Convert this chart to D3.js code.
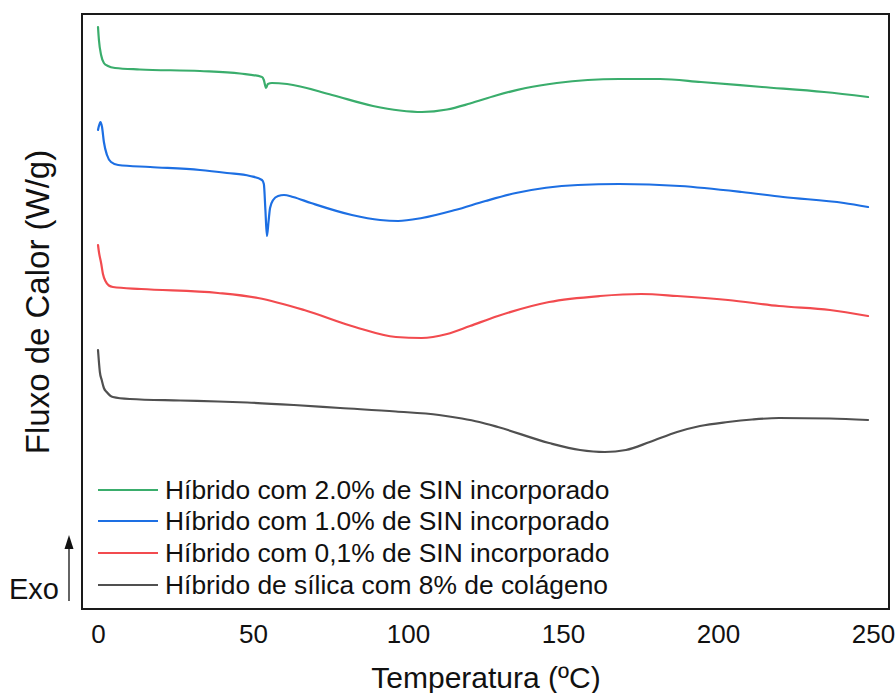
<!DOCTYPE html>
<html>
<head>
<meta charset="utf-8">
<script src="https://cdn.jsdelivr.net/npm/d3@7"></script>
<style>
  html, body { margin: 0; padding: 0; background: #fff; }
  svg { display: block; }
  text { font-family: "Liberation Sans", Arial, sans-serif; fill: #111; }
</style>
</head>
<body>
<svg id="chart" width="896" height="693"></svg>
<script>
// ---- Data (temperature °C, heat flow in arbitrary W/g offset units) ----
const seriesNames = [
  "Híbrido com 2.0% de SIN incorporado",
  "Híbrido com 1.0% de SIN incorporado",
  "Híbrido com 0,1% de SIN incorporado",
  "Híbrido de sílica com 8% de colágeno"
];
const seriesColors = ["#3aad6c", "#1d6fe3", "#f24b4f", "#505050"];

const green2 = [
  [0,5.82],[0.3,5.69],[1.0,5.54],[1.9,5.46],[3.2,5.43],[5.5,5.41],[13.5,5.395],
  [32.9,5.38],[45.8,5.355],[52.9,5.32],[53.5,5.29],[54.2,5.21],[54.8,5.25],
  [56.1,5.26],[61,5.25],[75.5,5.14],[88.7,5.03],[97.4,4.985],[104.5,4.97],
  [112.6,4.995],[120,5.055],[128.4,5.135],[138,5.21],[148,5.26],[168,5.30],[181.3,5.30],[194.5,5.27],
  [214.2,5.22],[234.2,5.17],[248.4,5.12]
];
const blue1 = [
  [0,4.79],[0.3,4.83],[0.8,4.87],[1.3,4.82],[1.9,4.67],[2.9,4.54],[4.2,4.47],
  [6.5,4.44],[16.8,4.42],[32.9,4.39],[41.6,4.36],[49,4.33],[52.9,4.29],[53.5,4.25],
  [54,3.99],[54.5,3.73],[55,3.87],[55.5,4.01],[56.5,4.09],[58.1,4.13],[60,4.14],
  [62.9,4.12],[68.7,4.06],[81.9,3.94],[91,3.89],[96.8,3.88],[104.5,3.91],
  [115.2,3.99],[125,4.08],[134.8,4.16],[154.8,4.24],[168.1,4.25],[187.7,4.23],[207.7,4.17],
  [221,4.12],[240.6,4.06],[248.4,4.02]
];
const red01 = [
  [0,3.64],[0.3,3.57],[1.0,3.46],[1.6,3.35],[2.4,3.28],[3.5,3.235],[4.8,3.22],
  [13.9,3.20],[38.7,3.16],[51.6,3.11],[66.5,2.99],[82.9,2.82],[96.1,2.72],
  [104.4,2.71],[112.6,2.75],[120,2.83],[129,2.93],[145.5,3.07],[161.9,3.13],[175.2,3.15],
  [186.8,3.13],[203.2,3.09],[219.7,3.03],[236.1,2.99],[248.4,2.93]
];
const gray8 = [
  [0,2.59],[0.3,2.47],[0.6,2.37],[1.2,2.29],[1.9,2.21],[2.8,2.17],[4.8,2.12],
  [10.3,2.10],[26.5,2.085],[38.7,2.075],[48.1,2.065],[63.2,2.04],[78.1,2.01],
  [96.1,1.975],[110,1.94],[117.4,1.905],[123,1.87],[129,1.82],[145.5,1.66],[155.5,1.59],[163.5,1.57],
  [170.3,1.59],[178,1.67],[186.8,1.77],[194.2,1.83],[203.2,1.87],[211,1.895],[219.7,1.91],[236.1,1.905],[248.4,1.89]
];
const allSeries = [green2, blue1, red01, gray8];
const xTicks = [0, 50, 100, 150, 200, 250];

// ---- Layout ----
const svg = d3.select("#chart");
const frame = {left: 82, top: 14, right: 889, bottom: 609};

const x = d3.scaleLinear().domain([0, 250]).range([98, 873]);
const y = d3.scaleLinear().domain([0, 5.95]).range([frame.bottom, frame.top]);

// frame
svg.append("rect")
  .attr("x", frame.left).attr("y", frame.top)
  .attr("width", frame.right - frame.left).attr("height", frame.bottom - frame.top)
  .attr("fill", "none").attr("stroke", "#1a1a1a").attr("stroke-width", 2);

// x axis (labels only)
const xAxis = d3.axisBottom(x).tickValues(xTicks).tickSize(0).tickPadding(16).tickFormat(d3.format("d"));
const gx = svg.append("g").attr("transform", `translate(0,${frame.bottom})`).call(xAxis);
gx.select(".domain").remove();
gx.selectAll("text").style("font-size", "26px").style("font-family", "'Liberation Sans', Arial, sans-serif").attr("fill", "#111");

// axis titles
svg.append("text").attr("x", 486).attr("y", 688).attr("text-anchor", "middle")
  .style("font-size", "30px").text("Temperatura (ºC)");
svg.append("text").attr("transform", "translate(49,302) rotate(-90)").attr("text-anchor", "middle")
  .style("font-size", "33px").text("Fluxo de Calor (W/g)");

// Exo arrow
svg.append("line").attr("x1", 69).attr("x2", 69).attr("y1", 601).attr("y2", 545)
  .attr("stroke", "#111").attr("stroke-width", 1.3);
svg.append("path").attr("d", "M69,535 L64.5,549 L73.5,549 Z").attr("fill", "#111");
svg.append("text").attr("x", 9).attr("y", 599).style("font-size", "29px").text("Exo");

// lines
const line = d3.line().x(d => x(d[0])).y(d => y(d[1])).curve(d3.curveMonotoneX);
svg.append("g").selectAll("path").data(allSeries).join("path")
  .attr("d", line).attr("fill", "none")
  .attr("stroke", (d, i) => seriesColors[i]).attr("stroke-width", 2.2)
  .attr("stroke-linejoin", "round").attr("stroke-linecap", "round");

// legend
const legendY = [490, 521, 553, 585];
const lg = svg.append("g");
seriesNames.forEach((name, i) => {
  lg.append("line").attr("x1", 98).attr("x2", 158).attr("y1", legendY[i]).attr("y2", legendY[i])
    .attr("stroke", seriesColors[i]).attr("stroke-width", 2.2);
  lg.append("text").attr("x", 165).attr("y", legendY[i]).attr("dy", "0.35em")
    .style("font-size", "26.4px").text(name);
});
</script>
</body>
</html>
